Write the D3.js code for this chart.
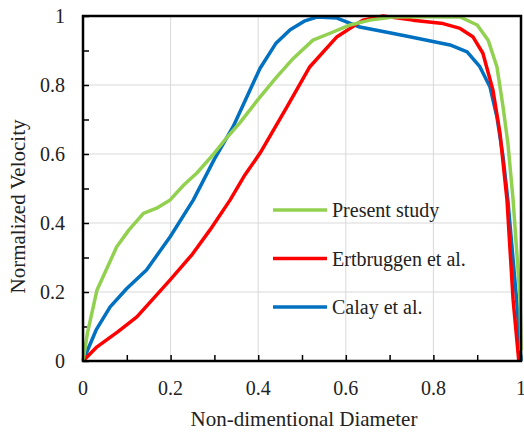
<!DOCTYPE html>
<html>
<head>
<meta charset="utf-8">
<script src="https://cdn.jsdelivr.net/npm/d3@7"></script>
<style>
  body { margin: 0; background: #fff; }
  svg text { font-family: "Liberation Serif", "DejaVu Serif", serif; fill: #222; }
</style>
</head>
<body>
<svg id="chart" width="524" height="432"></svg>
<script>
// data
var presentX = [0, 0.01, 0.032, 0.077, 0.105, 0.138, 0.168, 0.199, 0.23, 0.26, 0.297, 0.33, 0.358, 0.404, 0.44, 0.48, 0.525, 0.564, 0.61, 0.655, 0.708, 0.78, 0.861, 0.9, 0.925, 0.945, 0.959, 0.97, 0.982, 0.998, 1.0];
var presentY = [0, 0.08, 0.206, 0.331, 0.38, 0.428, 0.443, 0.467, 0.51, 0.545, 0.598, 0.65, 0.69, 0.765, 0.82, 0.877, 0.93, 0.95, 0.974, 0.988, 0.997, 0.998, 0.997, 0.974, 0.93, 0.853, 0.737, 0.632, 0.467, 0.177, 0.03];

var ertX = [0, 0.032, 0.08, 0.123, 0.16, 0.199, 0.25, 0.29, 0.336, 0.37, 0.404, 0.466, 0.518, 0.58, 0.639, 0.685, 0.753, 0.822, 0.861, 0.89, 0.913, 0.936, 0.952, 0.968, 0.982, 0.995];
var ertY = [0, 0.041, 0.085, 0.128, 0.18, 0.235, 0.31, 0.38, 0.467, 0.54, 0.602, 0.737, 0.853, 0.94, 0.988, 1.0, 0.988, 0.978, 0.964, 0.94, 0.892, 0.785, 0.66, 0.467, 0.177, 0];

var calayX = [0, 0.03, 0.062, 0.1, 0.145, 0.199, 0.252, 0.3, 0.343, 0.404, 0.44, 0.473, 0.505, 0.534, 0.58, 0.632, 0.694, 0.746, 0.799, 0.838, 0.877, 0.906, 0.929, 0.945, 0.959, 0.97, 0.99, 1.0];
var calayY = [0, 0.09, 0.157, 0.21, 0.264, 0.36, 0.467, 0.585, 0.68, 0.848, 0.92, 0.96, 0.985, 0.997, 0.994, 0.968, 0.953, 0.94, 0.926, 0.916, 0.896, 0.853, 0.795, 0.708, 0.592, 0.467, 0.177, 0];

var seriesNames = ["Present study", "Ertbruggen et al.", "Calay et al."];
var seriesColors = ["#92d050", "#ff0000", "#0070c0"];
var majorTicks = [0, 0.2, 0.4, 0.6, 0.8, 1];
var minorTicks = [0, 0.1, 0.2, 0.3, 0.4, 0.5, 0.6, 0.7, 0.8, 0.9, 1];

var series = [
  { name: seriesNames[0], color: seriesColors[0], pts: presentX.map((x, i) => [x, presentY[i]]) },
  { name: seriesNames[1], color: seriesColors[1], pts: ertX.map((x, i) => [x, ertY[i]]) },
  { name: seriesNames[2], color: seriesColors[2], pts: calayX.map((x, i) => [x, calayY[i]]) }
];

var FONT = "'Liberation Serif', 'DejaVu Serif', serif";

var svg = d3.select("#chart"),
  margin = { top: 16, right: 3, bottom: 71, left: 83 },
  width = +svg.attr("width") - margin.left - margin.right,
  height = +svg.attr("height") - margin.top - margin.bottom,
  g = svg.append("g").attr("transform", "translate(" + margin.left + "," + margin.top + ")");

var x = d3.scaleLinear().domain([0, 1]).range([0, width]);
var y = d3.scaleLinear().domain([0, 1]).range([height, 0]);

// grid
g.append("g")
  .selectAll("line")
  .data(majorTicks.slice(1, -1))
  .enter()
  .append("line")
  .attr("x1", d => x(d)).attr("x2", d => x(d))
  .attr("y1", 0).attr("y2", height)
  .attr("stroke", "#d9d9d9").attr("stroke-width", 1);
g.append("g")
  .selectAll("line")
  .data(majorTicks.slice(1, -1))
  .enter()
  .append("line")
  .attr("y1", d => y(d)).attr("y2", d => y(d))
  .attr("x1", 0).attr("x2", width)
  .attr("stroke", "#d9d9d9").attr("stroke-width", 1);

// inside ticks every 0.1
g.append("g")
  .attr("transform", "translate(0," + height + ")")
  .call(d3.axisTop(x).tickValues(minorTicks).tickSize(6).tickFormat(""))
  .call(a => a.select(".domain").remove())
  .selectAll("line").attr("stroke", "#000").attr("stroke-width", 1.5);
g.append("g")
  .call(d3.axisRight(y).tickValues(minorTicks).tickSize(6).tickFormat(""))
  .call(a => a.select(".domain").remove())
  .selectAll("line").attr("stroke", "#000").attr("stroke-width", 1.5);

// tick labels
g.append("g")
  .selectAll("text")
  .data(majorTicks)
  .enter()
  .append("text")
  .attr("x", d => x(d))
  .attr("y", height + 34)
  .attr("text-anchor", "middle")
  .attr("font-family", FONT)
  .attr("font-size", 20)
  .text(d => d3.format("")(d));
g.append("g")
  .selectAll("text")
  .data(majorTicks)
  .enter()
  .append("text")
  .attr("x", -18)
  .attr("y", d => y(d))
  .attr("dy", "0.35em")
  .attr("text-anchor", "end")
  .attr("font-family", FONT)
  .attr("font-size", 20)
  .text(d => d3.format("")(d));

// lines
var line = d3.line().x(d => x(d[0])).y(d => y(d[1]));
g.append("g")
  .selectAll("path")
  .data(series.slice().reverse())
  .enter()
  .append("path")
  .attr("d", d => line(d.pts))
  .attr("fill", "none")
  .attr("stroke", d => d.color)
  .attr("stroke-width", 3.5)
  .attr("stroke-linejoin", "round");

// frame
g.append("rect")
  .attr("width", width).attr("height", height)
  .attr("fill", "none").attr("stroke", "#000").attr("stroke-width", 2.5);

// axis titles
svg.append("text")
  .attr("x", margin.left + width / 2 + 2)
  .attr("y", 426)
  .attr("text-anchor", "middle")
  .attr("font-family", FONT)
  .attr("font-size", 21)
  .text("Non-dimentional Diameter");
svg.append("text")
  .attr("transform", "translate(25," + (margin.top + height / 2 + 18) + ") rotate(-90)")
  .attr("text-anchor", "middle")
  .attr("font-family", FONT)
  .attr("font-size", 21)
  .text("Normalized Velocity");

// legend
var legend = svg.append("g")
  .selectAll("g")
  .data(series)
  .enter()
  .append("g")
  .attr("transform", (d, i) => "translate(273," + (210 + i * 48.5) + ")");
legend.append("line")
  .attr("x1", 0).attr("x2", 54)
  .attr("stroke", d => d.color).attr("stroke-width", 3.5);
legend.append("text")
  .attr("x", 59)
  .attr("dy", "0.35em")
  .attr("font-family", FONT)
  .attr("font-size", 20)
  .text(d => d.name);
</script>
</body>
</html>
